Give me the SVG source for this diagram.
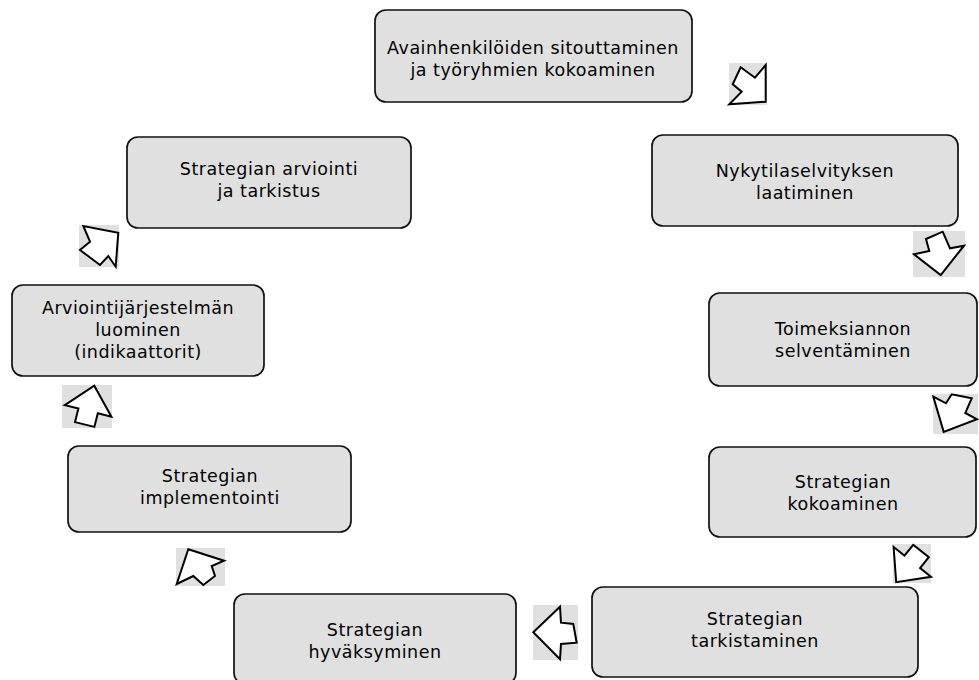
<svg xmlns="http://www.w3.org/2000/svg" width="979" height="680" viewBox="0 0 979 680">
<style>
.box{fill:#e0e0e0;stroke:#111;stroke-width:1.7}
.t{font-family:"DejaVu Sans","Liberation Sans",sans-serif;font-size:17.5px;letter-spacing:0.5px;fill:#000;text-anchor:middle}
.bg{fill:#e0e0e0;stroke:none}
.ar{fill:#fff;stroke:#000;stroke-width:2;stroke-linejoin:miter}
</style>
<rect width="979" height="680" fill="#fff"/>
<g id="n1"><rect class="box" x="375" y="10" width="317" height="92" rx="11"/>
<text class="t" x="533" y="54">Avainhenkilöiden sitouttaminen</text><text class="t" x="533" y="76">ja työryhmien kokoaminen</text></g>
<g id="n2"><rect class="box" x="652" y="135" width="306" height="91" rx="11"/>
<text class="t" x="805" y="177">Nykytilaselvityksen</text><text class="t" x="805" y="199">laatiminen</text></g>
<g id="n3"><rect class="box" x="709" y="293" width="268" height="93" rx="11"/>
<text class="t" x="843" y="335">Toimeksiannon</text><text class="t" x="843" y="357">selventäminen</text></g>
<g id="n4"><rect class="box" x="709" y="447" width="267" height="90" rx="11"/>
<text class="t" x="843" y="488">Strategian</text><text class="t" x="843" y="510">kokoaminen</text></g>
<g id="n5"><rect class="box" x="592" y="587" width="326" height="90" rx="11"/>
<text class="t" x="755" y="625">Strategian</text><text class="t" x="755" y="647">tarkistaminen</text></g>
<g id="n6"><rect class="box" x="234" y="594" width="282" height="90" rx="11"/>
<text class="t" x="375" y="636">Strategian</text><text class="t" x="375" y="658">hyväksyminen</text></g>
<g id="n7"><rect class="box" x="68" y="446" width="283" height="86" rx="11"/>
<text class="t" x="210" y="482">Strategian</text><text class="t" x="210" y="504">implementointi</text></g>
<g id="n8"><rect class="box" x="12" y="285" width="252" height="91" rx="11"/>
<text class="t" x="138" y="314">Arviointijärjestelmän</text><text class="t" x="138" y="336">luominen</text><text class="t" x="138" y="358">(indikaattorit)</text></g>
<g id="n9"><rect class="box" x="127" y="137" width="284" height="91" rx="11"/>
<text class="t" x="269" y="175">Strategian arviointi</text><text class="t" x="269" y="197">ja tarkistus</text></g>
<g id="connectors">
<rect class="bg" x="729" y="63" width="38" height="42"/>
<polygon class="ar" points="740.7,67.3 755,77.7 765.7,65 765.7,101.7 729.3,104.3 741.7,91.7 732.7,84.3"/>
<rect class="bg" x="913" y="231" width="52" height="46"/>
<polygon class="ar" points="926,239 942.7,231.7 950,248.3 964,245.7 940.7,275 914,254.3 929.3,251"/>
<rect class="bg" x="933" y="394" width="45" height="40"/>
<polygon class="ar" points="933.3,396.7 946,403.3 951.7,394.3 971.7,398.3 965.3,413 977,419.3 943.7,431.9"/>
<rect class="bg" x="893" y="544" width="38" height="39"/>
<polygon class="ar" points="913.2,544.8 928.8,557.2 920.1,568.1 931,576.8 896.2,582.2 893.6,547 904.5,555.7"/>
<rect class="bg" x="533" y="605" width="45" height="55"/>
<polygon class="ar" points="533.3,632.3 560,606.7 561,622.7 573.3,624 576.7,642.7 561,644 560,659.3"/>
<rect class="bg" x="176" y="548" width="49" height="38"/>
<polygon class="ar" points="188.3,549.3 224,560.7 211.7,566 215,576 203.3,585 193.3,576 176.7,584"/>
<rect class="bg" x="62" y="385" width="50" height="43"/>
<polygon class="ar" points="94.3,385.7 111.4,416.7 97.8,413.3 94.4,426.9 75,422.1 78.4,408.5 64.8,405.1"/>
<rect class="bg" x="79" y="225" width="40" height="42"/>
<polygon class="ar" points="118.3,232.7 115.7,266.7 108.3,256 100,265 80,250 90,241.7 83.3,226"/>
</g>
</svg>
